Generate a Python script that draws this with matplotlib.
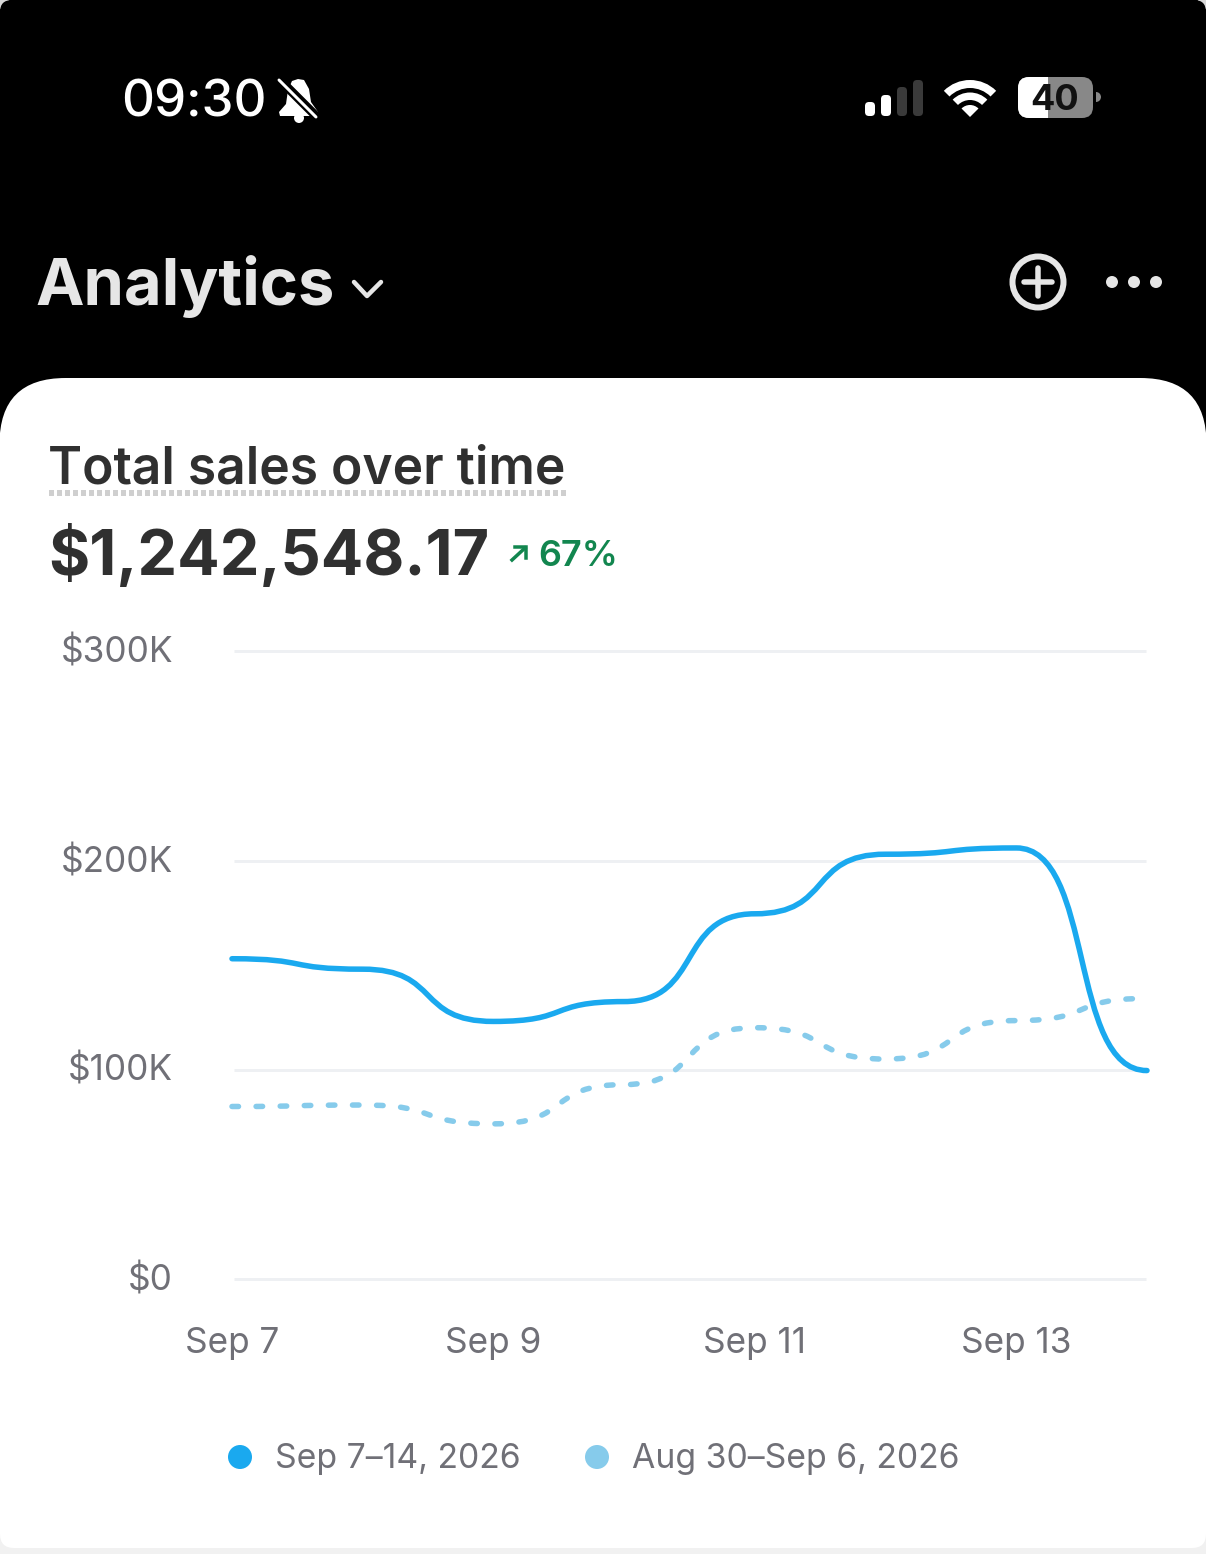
import matplotlib
matplotlib.use("Agg")
import matplotlib.pyplot as plt
from matplotlib.patches import FancyBboxPatch, PathPatch, Circle, Rectangle, Wedge
from matplotlib.path import Path
from matplotlib.transforms import ScaledTranslation

plt.rcParams['font.family'] = ['Inter', 'DejaVu Sans']
plt.rcParams['lines.scale_dashes'] = False

days = [0, 1, 2, 3, 4, 5, 6, 7]
current_sales = [153, 148, 123, 132.5, 174.5, 203, 206, 99.5]
previous_sales = [82.3, 83, 74, 92.8, 120, 105, 123.4, 134]
x_ticks = [0, 2, 4, 6]
x_labels = ["Sep 7", "Sep 9", "Sep 11", "Sep 13"]
y_ticks = [0, 100, 200, 300]
y_labels = ["$0", "$100K", "$200K", "$300K"]
legend_labels = ["Sep 7\u201314, 2026", "Aug 30\u2013Sep 6, 2026"]

W, H = 1206, 1554
BLUE = "#1AA9EF"
LIGHT = "#86CBEB"
GREY = "#707077"
DARK = "#303030"
CHROME = "#E6E6E6"
GREEN = "#12864F"


def px(v):
    # pixels to points at dpi 100
    return v * 0.72


def smooth_path(xs, ys, handle=0.6):
    # flat tangents at every day, same look as the app's curve
    verts = [(xs[0], ys[0])]
    codes = [Path.MOVETO]
    for i in range(len(xs) - 1):
        dx = xs[i + 1] - xs[i]
        verts += [(xs[i] + handle * dx, ys[i]), (xs[i + 1] - handle * dx, ys[i + 1]), (xs[i + 1], ys[i + 1])]
        codes += [Path.CURVE4] * 3
    return Path(verts, codes)


fig = plt.figure(figsize=(W / 100, H / 100), dpi=100, facecolor="black")

# whole-page axes in pixels, for the phone chrome
bg = fig.add_axes([0, 0, 1, 1])
bg.set_xlim(0, W)
bg.set_ylim(H, 0)
bg.axis("off")

# rounded phone corners at the top
for cx in (0, W):
    bg.add_patch(Rectangle((cx - 8, -8), 16, 16, color="#D8D8D8", zorder=0))
bg.add_patch(FancyBboxPatch((0, 0), W, 700, boxstyle="round,pad=0,rounding_size=12", fc="black", ec="none", zorder=1))

# card
bg.add_patch(Rectangle((0, 1480), W, 80, fc="#F1F1F1", ec="none", zorder=1))
bg.add_patch(FancyBboxPatch((-0.5, 378), W + 1, 1170, boxstyle="round,pad=0,rounding_size=66", fc="white", ec="none", zorder=2))
bg.add_patch(Rectangle((0, 446), W, 1084, fc="white", ec="none", zorder=2))
bg.add_patch(FancyBboxPatch((0, 1500), W, 48, boxstyle="round,pad=0,rounding_size=14", fc="white", ec="none", zorder=2))

# status bar
bg.text(121, 103, "09:30", color="white", fontsize=px(51), fontweight="medium", va="center", ha="left", zorder=5)
bell = Path([(298, 79), (304, 80), (309, 89), (311, 102), (318, 112), (317, 116), (280, 116), (279, 112),
             (286, 104), (288, 90), (292, 81), (298, 79)])
bg.add_patch(PathPatch(bell, fc="white", ec="none", zorder=5))
bg.add_patch(Circle((299, 118), 5, fc="white", ec="none", zorder=5))
bg.plot([281, 317], [81, 117], color="black", lw=px(9), zorder=6)
bg.plot([279, 316], [80, 117], color="white", lw=px(3), zorder=7, solid_capstyle="round")

for x0, top, col in [(865, 102, "white"), (881, 95, "white"), (897, 87, "#3A3A3A"), (913, 80, "#3A3A3A")]:
    bg.add_patch(FancyBboxPatch((x0, top), 10, 116 - top, boxstyle="round,pad=0,rounding_size=4", fc=col, ec="none", zorder=5))

for r0, r1 in [(29, 37), (17, 24.5)]:
    bg.add_patch(Wedge((970, 117), r1, 225, 315, width=r1 - r0, fc="white", ec="none", zorder=5))
bg.add_patch(Wedge((970, 117), 12, 225, 315, fc="white", ec="none", zorder=5))

bg.add_patch(FancyBboxPatch((1018, 77), 75, 41, boxstyle="round,pad=0,rounding_size=11", fc="#888888", ec="none", zorder=5))
white_part = FancyBboxPatch((1018, 77), 75, 41, boxstyle="round,pad=0,rounding_size=11", fc="white", ec="none", zorder=6)
bg.add_patch(white_part)
white_part.set_clip_path(Rectangle((1018, 70), 30, 55, transform=bg.transData))
bg.add_patch(Wedge((1096, 97), 5, -90, 90, fc="#888888", ec="none", zorder=5))
bg.text(1055, 100, "40", color="#111111", fontsize=px(36), fontweight="bold", ha="center", va="center", zorder=7)

# header
bg.text(35, 287, "Analytics", color=CHROME, fontsize=px(65), fontweight="bold", va="center", ha="left", zorder=5)
bg.plot([354, 367, 381], [282, 296, 282], color=CHROME, lw=px(4.5), solid_capstyle="round", solid_joinstyle="round", zorder=5)
bg.add_patch(Circle((1038, 282), 25.5, fc="none", ec=CHROME, lw=px(6), zorder=5))
bg.plot([1038, 1038], [268, 296], color=CHROME, lw=px(5.5), solid_capstyle="round", zorder=5)
bg.plot([1024, 1052], [282, 282], color=CHROME, lw=px(5.5), solid_capstyle="round", zorder=5)
for cx in (1112, 1134, 1156):
    bg.add_patch(Circle((cx, 282), 6, fc=CHROME, ec="none", zorder=5))

# card heading
bg.text(48, 470, "Total sales over time", color=DARK, fontsize=px(51.6), fontweight="semibold", va="center", ha="left", zorder=5)
bg.plot([49, 566], [493, 493], color="#CFCFCF", lw=px(6), ls=(0, (px(5), px(3))), zorder=5)
bg.text(48, 556, "$1,242,548.17", color=DARK, fontsize=px(63), fontweight="bold", va="center", ha="left", zorder=5)
bg.plot([515, 525.5, 525.5], [547, 547, 558], color=GREEN, lw=px(3.5), solid_joinstyle="miter", zorder=5)
bg.plot([512, 525], [560, 548], color=GREEN, lw=px(3.5), zorder=5)
bg.text(538, 556, "67%", color=GREEN, fontsize=px(36), fontweight="semibold", va="center", ha="left", zorder=5)

# chart
left, right, top, bottom = 232, 1147, 651.5, 1278.5
ax = fig.add_axes([left / W, 1 - bottom / H, (right - left) / W, (bottom - top) / H], facecolor="none", zorder=3)
ax.set_xlim(0, 7)
ax.set_ylim(0, 300)
for s in ax.spines.values():
    s.set_visible(False)
ax.set_yticks(y_ticks, y_labels)
ax.set_xticks(x_ticks, x_labels)
ax.tick_params(axis="y", length=0, pad=px(59), labelsize=px(35.2), labelcolor=GREY)
ax.tick_params(axis="x", length=0, pad=px(48), labelsize=px(35.2), labelcolor=GREY)
ax.hlines(y_ticks, 0.015, 6.995, color="#EEF0F3", lw=px(3), clip_on=False, zorder=1)
for lab in ax.get_yticklabels():
    lab.set_transform(lab.get_transform() + ScaledTranslation(0, px(2) / 72, fig.dpi_scale_trans))

ax.add_patch(PathPatch(smooth_path(days, previous_sales), fc="none", ec=LIGHT, lw=px(5.5), capstyle="round",
                       ls=(0, (px(6.5), px(17.6))), zorder=3, clip_on=False))
ax.add_patch(PathPatch(smooth_path(days, current_sales), fc="none", ec=BLUE, lw=px(5.5), capstyle="round",
                       zorder=4, clip_on=False))

# legend
for cx, col, lab in [(240, BLUE, legend_labels[0]), (597, LIGHT, legend_labels[1])]:
    bg.add_patch(Circle((cx, 1457), 12, fc=col, ec="none", zorder=5))
    bg.text(cx + 35, 1459, lab, color=GREY, fontsize=px(33.8), va="center", ha="left", zorder=5)

fig.savefig("out.png", dpi=100, facecolor=fig.get_facecolor())
